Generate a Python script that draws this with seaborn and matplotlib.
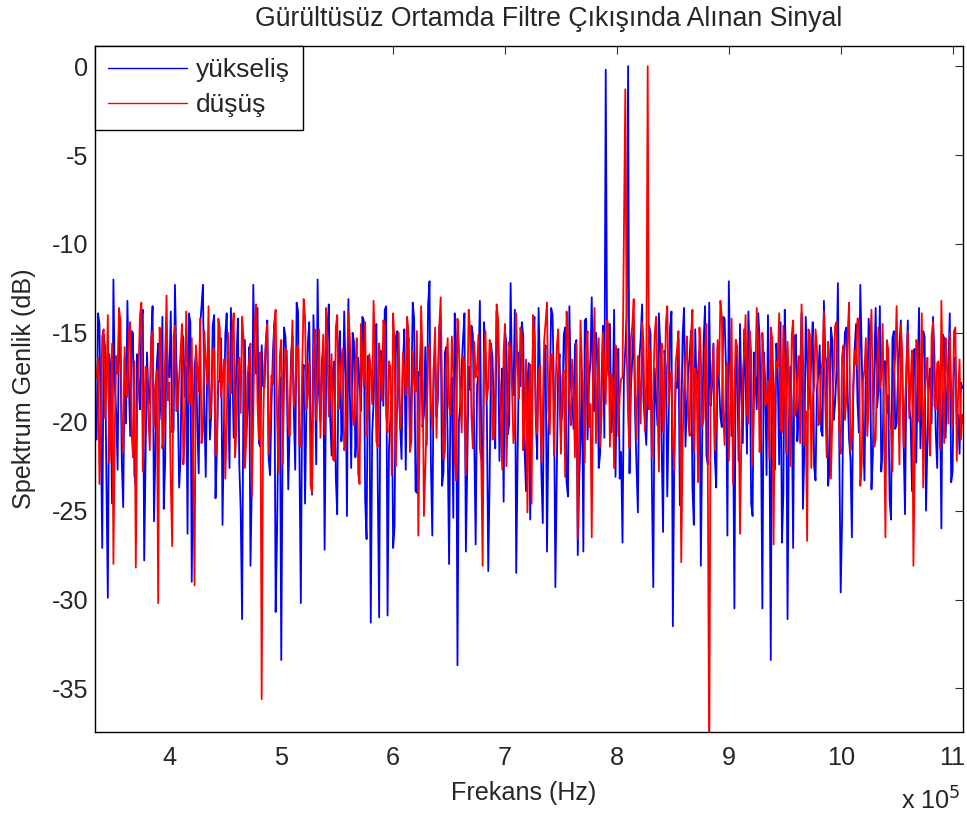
import numpy as np
import pandas as pd
import matplotlib
matplotlib.use("Agg")
import matplotlib.pyplot as plt
import seaborn as sns

# frequency grid (Hz): start and bin spacing; the "_ara" series sit half a bin later
freq_start = 3.35e5
freq_step = 2.5e3

yukselis = [
    -21.0, -14.5, -27.1, -15.8, -29.9, -17.2, -12.0, -19.5, -14.1, -22.3,
    -16.4, -13.2, -20.8, -15.0, -23.6, -17.9, -14.2, -27.8, -16.1, -19.0,
    -13.5, -21.7, -15.6, -18.3, -24.9, -14.8, -17.5, -20.6, -12.3, -18.8,
    -22.0, -15.3, -16.9, -13.9, -29.0, -17.0, -20.2, -14.6, -12.3, -23.1,
    -16.0, -19.4, -14.0, -21.5, -17.7, -25.8, -15.1, -18.6, -13.6, -20.9,
    -16.5, -22.4, -31.1, -15.4, -19.1, -28.1, -12.3, -17.3, -21.2, -15.7,
    -18.1, -14.3, -23.0, -16.2, -30.7, -19.8, -33.4, -14.7, -17.6, -20.4,
    -15.2, -22.7, -13.8, -30.2, -16.8, -19.2, -14.4, -24.1, -17.1, -12.0,
    -20.0, -15.9, -18.4, -13.4, -21.9, -16.6, -25.2, -14.9, -19.7, -17.4,
    -13.1, -22.6, -15.5, -20.3, -17.8, -14.1, -24.4, -16.3, -31.3, -18.9,
    -14.5, -31.0, -17.3, -13.7, -30.9, -19.9, -27.1, -15.2, -18.2, -22.1,
    -14.8, -16.7, -20.5, -13.3, -23.9, -17.2, -15.0, -19.6, -21.3, -12.1,
    -26.4, -16.0, -18.7, -14.3, -22.8, -15.8, -28.0, -17.5, -13.9, -33.7,
    -19.0, -15.3, -27.3, -16.9, -14.6, -21.1, -18.0, -13.2, -24.7, -16.4,
    -28.4, -15.6, -19.3, -13.8, -22.2, -17.0, -14.9, -20.7, -12.2, -18.5,
    -28.5, -16.1, -14.4, -21.6, -17.7, -25.5, -15.4, -19.8, -13.6, -22.9,
    -16.6, -27.3, -18.3, -14.0, -29.3, -17.1, -20.1, -15.1, -23.4, -13.5,
    -18.8, -15.7, -27.5, -21.0, -27.3, -14.2, -17.9, -13.0, -19.4, -16.2,
    -21.8, -14.6, -0.2, -17.4, -20.6, -13.7, -16.8, -23.2, -26.8, -15.9,
    0.0, -18.1, -14.3, -22.5, -16.5, -13.4, -20.0, -17.6, -15.0, -29.3,
    -18.6, -13.9, -21.4, -16.0, -24.2, -14.7, -31.5, -17.8, -15.3, -20.2,
    -13.6, -19.1, -16.3, -23.7, -14.8, -17.2, -28.1, -15.5, -21.9, -13.3,
    -18.0, -22.0, -15.8, -19.7, -14.1, -17.0, -12.1, -20.8, -30.5, -16.7,
    -14.5, -21.2, -17.5, -13.8, -24.6, -16.1, -19.3, -15.2, -30.5, -17.7,
    -14.0, -33.4, -18.4, -15.6, -22.4, -26.8, -13.7, -31.1, -16.9, -27.1,
    -15.1, -19.5, -13.9, -21.7, -16.4, -18.2, -14.4, -23.3, -17.3, -20.5,
    -13.2, -16.7, -22.7, -15.4, -19.0, -12.2, -29.6, -17.6, -14.7, -21.0,
    -26.5, -15.9, -18.9, -12.3, -20.4, -16.2, -14.2, -23.8, -17.1, -19.2,
    -13.5, -21.5, -16.6, -18.5, -25.5, -14.9, -20.1, -15.7, -17.4, -25.2,
    -14.3, -19.9, -16.0, -22.3, -13.6, -18.7, -15.2, -21.1, -17.0, -14.1,
    -20.7, -16.8, -26.0, -15.3, -18.3, -13.9, -22.8, -16.4, -19.6, -17.8,
]

yukselis_ara = [
    -13.9, -20.3, -15.1, -23.4, -16.2, -24.6, -18.0, -22.7, -15.6, -24.8,
    -20.1, -17.6, -14.9, -23.0, -16.2, -19.3, -13.7, -21.8, -18.5, -15.4,
    -25.6, -16.8, -19.9, -14.1, -22.2, -17.3, -13.8, -20.5, -16.5, -23.7,
    -15.0, -18.6, -26.3, -14.4, -20.8, -16.1, -22.9, -13.5, -19.2, -17.4,
    -21.0, -14.6, -24.3, -17.8, -15.3, -20.4, -13.9, -22.6, -16.7, -19.6,
    -14.2, -25.0, -17.2, -20.9, -15.8, -23.3, -16.9, -13.6, -21.4, -18.0,
    -15.5, -22.1, -19.0, -14.5, -26.1, -17.5, -20.6, -15.2, -23.8, -16.3,
    -19.5, -13.3, -21.7, -17.9, -24.6, -15.6, -20.0, -14.0, -22.4, -18.4,
    -16.6, -27.2, -14.8, -19.8, -17.1, -23.1, -15.9, -21.1, -13.8, -25.3,
    -18.3, -15.0, -22.0, -16.4, -19.4, -14.3, -26.6, -17.7, -20.7, -15.7,
    -23.5, -16.0, -19.1, -13.5, -21.6, -18.1, -25.9, -14.9, -20.2, -16.8,
    -22.7, -15.3, -18.9, -14.2, -24.0, -17.4, -20.3, -15.8, -13.4, -22.3,
    -17.0, -19.7, -14.6, -23.6, -16.1, -21.2, -18.6, -25.4, -15.5, -20.0,
    -16.9, -13.9, -22.5, -18.2, -15.1, -26.9, -17.3, -20.8, -14.4, -19.3,
    -23.2, -16.4, -21.5, -14.8, -18.7, -24.5, -15.6, -20.1, -17.6, -13.7,
    -21.9, -18.0, -15.2, -23.9, -16.7, -19.9, -14.1, -22.1, -17.2, -25.7,
    -15.7, -20.6, -13.6, -18.5, -22.8, -16.2, -19.5, -14.7, -24.2, -17.9,
    -20.4, -15.4, -23.4, -17.1, -14.3, -21.0, -16.6, -19.0, -15.0, -22.6,
    -17.7, -20.9, -16.3, -14.5, -19.2, -23.1, -15.9, -21.7, -17.5, -14.0,
    -22.9, -16.5, -19.6, -25.1, -15.3, -18.8, -21.3, -14.6, -23.5, -17.0,
    -20.2, -15.8, -26.2, -16.9, -19.8, -13.8, -22.0, -18.1, -24.7, -15.1,
    -21.4, -17.3, -14.9, -25.8, -18.4, -16.0, -20.7, -13.5, -22.4, -19.1,
    -15.6, -23.7, -17.8, -20.3, -14.2, -26.4, -16.8, -19.4, -15.4, -22.2,
    -18.6, -14.8, -21.8, -16.4, -25.3, -17.6, -13.9, -20.5, -16.1, -23.0,
    -19.7, -15.5, -22.7, -17.2, -14.4, -24.1, -16.7, -20.0, -18.9, -15.2,
    -21.1, -17.4, -24.9, -14.1, -19.3, -16.5, -22.5, -18.2, -15.7, -20.8,
    -16.3, -23.6, -14.7, -19.9, -17.1, -21.6, -25.5, -15.0, -18.5, -22.1,
    -17.9, -14.5, -20.6, -16.0, -23.3, -19.0, -15.8, -21.9, -13.6, -18.3,
    -22.8, -16.6, -19.5, -24.4, -15.3, -20.4, -17.3, -14.3, -21.2, -16.9,
    -19.1, -23.9, -15.9, -18.0, -21.5, -14.9, -25.0, -17.7, -20.1, -16.2,
    -22.6, -18.7, -15.1, -20.9, -17.0, -23.4, -16.4, -19.8, -21.8, -18.1,
]

dusus = [
    -17.5, -23.5, -15.2, -19.8, -14.0, -21.2, -28.0, -16.3, -13.6, -20.1,
    -15.8, -18.6, -14.4, -22.0, -28.2, -16.9, -13.3, -19.4, -17.2, -21.6,
    -14.9, -18.0, -30.2, -15.5, -20.7, -12.9, -17.8, -27.0, -14.6, -19.2,
    -16.1, -22.4, -13.8, -18.9, -15.3, -29.2, -17.0, -14.2, -20.5, -16.6,
    -13.5, -19.0, -15.9, -21.8, -14.7, -17.6, -23.2, -15.0, -18.4, -13.9,
    -20.3, -16.4, -14.1, -22.6, -17.3, -15.6, -19.6, -13.4, -21.0, -35.6,
    -16.8, -14.5, -20.0, -17.9, -13.7, -22.9, -15.4, -18.2, -16.0, -20.8,
    -14.3, -18.5, -15.7, -21.4, -13.1, -19.3, -16.7, -24.0, -14.8, -17.4,
    -20.9, -15.1, -13.6, -19.7, -16.2, -22.2, -14.0, -18.1, -15.9, -21.3,
    -13.8, -17.7, -20.2, -15.3, -23.5, -16.5, -14.4, -19.0, -17.1, -13.2,
    -21.1, -15.6, -18.8, -14.6, -20.6, -16.9, -13.9, -22.5, -15.0, -19.5,
    -17.2, -14.1, -21.7, -16.0, -18.3, -26.4, -13.5, -25.3, -19.9, -15.7,
    -20.4, -14.7, -17.5, -13.0, -22.1, -16.6, -19.1, -15.2, -21.9, -14.2,
    -18.6, -16.3, -23.0, -13.7, -19.8, -15.5, -17.0, -21.5, -28.1, -14.9,
    -18.0, -15.8, -20.9, -13.4, -17.7, -22.7, -14.5, -19.4, -16.1, -21.2,
    -13.9, -18.7, -15.1, -20.0, -25.1, -16.8, -14.0, -19.6, -17.4, -22.3,
    -15.4, -13.3, -20.7, -16.2, -18.4, -14.8, -21.8, -17.1, -13.8, -19.2,
    -16.5, -22.0, -26.6, -14.3, -18.9, -15.9, -20.3, -26.5, -13.6, -17.8,
    -21.4, -15.0, -19.0, -14.6, -17.3, -22.6, -16.4, -18.5, -17.5, -1.3,
    -19.7, -15.3, -13.1, -21.0, -17.6, -14.4, -20.5, 0.0, -16.0, -18.2,
    -14.1, -22.8, -15.6, -19.3, -13.5, -17.9, -21.1, -16.7, -14.9, -27.9,
    -18.1, -15.2, -20.8, -13.7, -17.0, -23.4, -16.2, -19.8, -14.5, -40.0,
    -17.5, -21.6, -15.4, -13.2, -19.5, -16.9, -22.2, -14.2, -18.3, -15.8,
    -26.3, -17.2, -14.0, -20.1, -16.1, -18.8, -13.6, -21.7, -15.0, -19.1,
    -17.7, -14.7, -26.9, -16.6, -13.9, -20.6, -18.0, -15.5, -22.5, -14.3,
    -19.4, -16.3, -13.4, -21.3, -26.7, -15.1, -18.6, -14.8, -20.2, -17.1,
    -13.8, -22.0, -16.5, -19.9, -14.6, -17.4, -21.8, -15.7, -18.7, -13.3,
    -20.9, -16.0, -14.2, -23.6, -17.6, -15.3, -19.2, -13.7, -21.4, -16.8,
    -18.1, -14.5, -26.5, -15.9, -20.4, -17.3, -13.5, -22.4, -16.2, -19.0,
    -14.9, -17.8, -28.1, -15.4, -20.0, -13.9, -18.9, -16.4, -21.9, -14.4,
    -19.3, -16.6, -13.2, -21.2, -17.0, -15.0, -20.3, -14.7, -18.4, -21.0,
]

dusus_ara = [
    -16.4, -19.9, -14.8, -18.1, -22.3, -15.6, -20.4, -17.3, -14.3, -21.7,
    -17.8, -15.1, -20.6, -16.6, -19.2, -14.0, -22.8, -16.9, -19.7, -15.4,
    -20.3, -17.1, -14.7, -21.5, -16.2, -18.8, -23.4, -15.2, -19.4, -17.5,
    -14.5, -20.9, -16.8, -19.0, -22.7, -15.7, -18.3, -21.2, -14.9, -17.9,
    -19.8, -16.0, -21.9, -14.2, -18.6, -16.5, -20.1, -17.7, -15.0, -22.0,
    -17.2, -19.5, -15.3, -21.0, -16.7, -24.2, -14.6, -18.9, -16.1, -20.5,
    -15.5, -21.8, -17.4, -14.4, -19.6, -16.3, -22.4, -15.9, -20.2, -17.0,
    -19.1, -15.8, -21.3, -16.9, -14.1, -18.4, -23.6, -16.0, -19.9, -14.8,
    -17.6, -20.7, -15.5, -18.2, -22.1, -14.7, -19.3, -16.4, -21.6, -17.3,
    -15.2, -19.7, -16.8, -22.9, -14.5, -18.0, -20.8, -16.2, -19.0, -15.9,
    -21.4, -17.1, -14.3, -19.5, -16.6, -23.0, -15.6, -18.7, -20.4, -16.1,
    -18.5, -15.0, -21.1, -17.8, -14.9, -20.0, -16.4, -22.6, -15.8, -19.1,
    -16.9, -20.9, -14.6, -18.3, -21.7, -15.3, -19.6, -17.2, -23.3, -15.7,
    -20.6, -16.7, -19.2, -14.8, -21.5, -17.5, -15.1, -22.2, -16.3, -18.8,
    -15.4, -21.0, -17.9, -14.2, -19.8, -16.0, -22.5, -15.5, -18.1, -20.3,
    -17.0, -14.7, -21.6, -16.5, -18.6, -24.6, -15.2, -20.7, -16.8, -19.4,
    -14.4, -19.3, -16.2, -21.9, -15.8, -18.9, -17.4, -23.1, -15.0, -20.2,
    -18.2, -15.6, -20.5, -17.1, -22.3, -14.9, -19.0, -16.6, -21.2, -15.3,
    -19.6, -16.9, -14.3, -21.4, -18.0, -15.7, -20.8, -17.6, -9.5, -16.1,
    -21.5, -14.6, -18.4, -16.3, -20.1, -15.5, -17.9, -19.3, -22.0, -15.1,
    -18.7, -16.8, -20.6, -14.5, -19.2, -17.2, -22.7, -15.9, -18.5, -21.1,
    -16.4, -19.8, -15.2, -21.7, -17.7, -14.7, -20.3, -16.0, -22.9, -18.3,
    -15.7, -20.0, -17.4, -14.1, -21.3, -16.7, -19.1, -23.5, -15.4, -18.6,
    -20.7, -16.2, -19.5, -14.9, -22.4, -17.0, -15.6, -20.9, -16.5, -18.9,
    -22.1, -15.3, -18.2, -16.9, -20.4, -14.6, -21.8, -17.8, -15.1, -19.7,
    -17.3, -21.2, -16.1, -19.4, -14.8, -22.6, -18.1, -15.8, -20.0, -16.6,
    -19.0, -15.5, -23.2, -17.5, -14.4, -20.5, -16.3, -19.9, -15.0, -21.6,
    -18.4, -16.8, -14.2, -22.5, -17.1, -20.8, -15.9, -18.7, -21.0, -14.7,
    -17.6, -20.2, -15.4, -19.5, -22.8, -16.4, -18.0, -14.5, -21.4, -17.2,
    -19.8, -16.0, -21.9, -15.6, -18.5, -23.7, -17.4, -20.6, -15.2, -19.1,
    -16.7, -21.5, -17.9, -15.3, -20.1, -18.2, -14.9, -22.2, -16.5, -19.6,
]

series_names = ["yükseliş", "düşüş"]
series_colors = ["#0000FF", "#FF0000"]
x_ticks = [4, 5, 6, 7, 8, 9, 10, 11]
y_ticks = [-35, -30, -25, -20, -15, -10, -5, 0]

freq_bin = freq_start + freq_step * np.arange(len(yukselis))
freq_half = freq_bin + freq_step / 2


def series_frame(main, between, name):
    d = pd.DataFrame({
        "freq": np.concatenate([freq_bin, freq_half]),
        "dB": np.concatenate([main, between]),
        "seri": name,
    })
    return d.sort_values("freq")


df = pd.concat([
    series_frame(yukselis, yukselis_ara, series_names[0]),
    series_frame(dusus, dusus_ara, series_names[1]),
], ignore_index=True)

sns.set_style("white")
plt.rcParams["font.family"] = ["Liberation Sans", "DejaVu Sans"]

fig = plt.figure(figsize=(9.67, 8.16), dpi=100)
ax = fig.add_axes([0.0982, 0.1029, 0.8973, 0.8411])

sns.lineplot(data=df, x="freq", y="dB", hue="seri", hue_order=series_names,
             palette=dict(zip(series_names, series_colors)),
             estimator=None, sort=True, linewidth=1.3, ax=ax)

ax.set_xlim(3.335e5, 11.09e5)
ax.set_ylim(-37.45, 1.15)
ax.set_xticks([t * 1e5 for t in x_ticks])
ax.set_xticklabels([str(t) for t in x_ticks])
ax.set_yticks(y_ticks)
ax.set_yticklabels([str(t) for t in y_ticks])
ax.tick_params(axis="both", which="both", direction="in", length=6,
               width=0.8, color="#333333", labelsize=18.2, top=True, right=True)
ax.tick_params(axis="x", pad=10)
ax.tick_params(axis="y", pad=5)
for sp in ax.spines.values():
    sp.set_color("black")
    sp.set_linewidth(1.0)

ax.set_xlabel("Frekans (Hz)", fontsize=18.1, labelpad=8, x=0.494)
ax.set_ylabel("Spektrum Genlik (dB)", fontsize=18.1, labelpad=11)
ax.set_title("Gürültüsüz Ortamda Filtre Çıkışında Alınan Sinyal", fontsize=19.2,
             pad=14, x=0.523)
fig.text(0.993, 1 - 810 / 816, r"x 10$^5$", ha="right", va="baseline", fontsize=18.2)

leg = ax.legend(loc="upper left", bbox_to_anchor=(0, 1), borderaxespad=0,
                fontsize=19, frameon=True, fancybox=False, framealpha=1,
                edgecolor="black", handlelength=3.0, handletextpad=0.35,
                labelspacing=0.42, borderpad=0.48)
leg.get_frame().set_linewidth(1.0)
for h in leg.get_lines():
    h.set_linewidth(1.0)

fig.savefig("out.png", dpi=100)
